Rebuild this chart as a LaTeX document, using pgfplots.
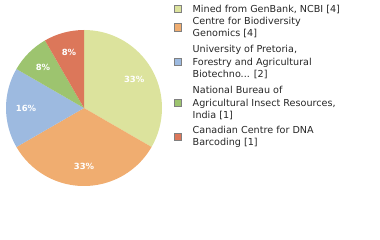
\documentclass[border=0pt]{standalone}
\usepackage{pgfplots}
\pgfplotsset{compat=1.18}
\usepackage{fontspec}
\setmainfont{DejaVu Sans}

\definecolor{cA}{RGB}{220,227,157}
\definecolor{cB}{RGB}{240,173,112}
\definecolor{cC}{RGB}{157,186,224}
\definecolor{cD}{RGB}{157,196,111}
\definecolor{cE}{RGB}{220,119,90}
\definecolor{edge}{RGB}{128,128,128}

% counts per source
\def\vA{4}\def\vB{4}\def\vC{2}\def\vD{1}\def\vE{1}
\pgfmathsetmacro\tot{\vA+\vB+\vC+\vD+\vE}
\pgfmathsetmacro\aA{90}
\pgfmathsetmacro\aB{\aA-360*\vA/\tot}
\pgfmathsetmacro\aC{\aB-360*\vB/\tot}
\pgfmathsetmacro\aD{\aC-360*\vC/\tot}
\pgfmathsetmacro\aE{\aD-360*\vD/\tot}
\pgfmathsetmacro\aF{\aE-360*\vE/\tot}

\newcommand\slice[3]{% start, end, colour
  \fill[#3] (axis cs:84,132) -- ([shift={(#1:78bp)}]axis cs:84,132)
    arc[start angle=#1, end angle=#2, radius=78bp] -- cycle;}
\newcommand\plab[3]{% start, end, text
  \node[text=white, font=\bfseries\fontsize{8.5}{9}\selectfont, inner sep=0pt]
    at ([shift={({(#1+#2)/2}:58bp)}]axis cs:84,132) {#3};}
\newcommand\lentry[3]{% y, colour, text
  \draw[edge, line width=0.8bp, fill=#2] (axis cs:174,#1-3.7) rectangle (axis cs:181.3,#1+3.7);
  \node[anchor=west, align=left, inner sep=0pt,
        font=\fontsize{9.65}{12.2}\selectfont, text=black!85]
    at (axis cs:192.5,#1) {#3};}

\begin{document}
\begin{tikzpicture}
\begin{axis}[
    x=1bp, y=1bp,
    xmin=0, xmax=380, ymin=0, ymax=240,
    scale only axis, hide axis, clip=false,
]
\addplot[draw=none] coordinates {(0,0) (380,240)};
\slice{\aA}{\aB}{cA}
\slice{\aB}{\aC}{cB}
\slice{\aC}{\aD}{cC}
\slice{\aD}{\aE}{cD}
\slice{\aE}{\aF}{cE}
\plab{\aA}{\aB}{33\%}
\plab{\aB}{\aC}{33\%}
\plab{\aC}{\aD}{16\%}
\plab{\aD}{\aE}{8\%}
\plab{\aE}{\aF}{8\%}
\lentry{231}{cA}{Mined from GenBank, NCBI [4]}
\lentry{212.5}{cB}{Centre for Biodiversity\\Genomics [4]}
\lentry{178}{cC}{University of Pretoria,\\Forestry and Agricultural\\Biotechno... [2]}
\lentry{137}{cD}{National Bureau of\\Agricultural Insect Resources,\\India [1]}
\lentry{103}{cE}{Canadian Centre for DNA\\Barcoding [1]}
\end{axis}
\end{tikzpicture}
\end{document}
